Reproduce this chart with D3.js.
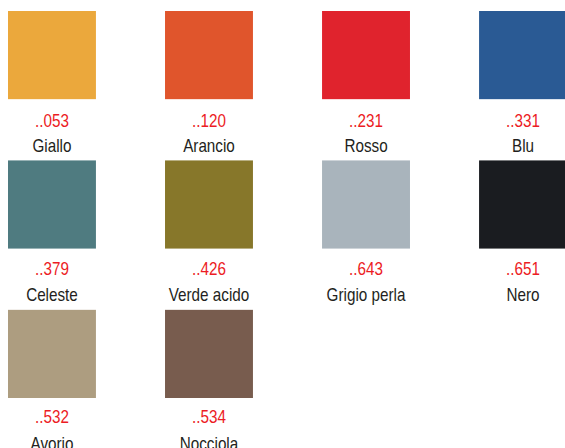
<!DOCTYPE html>
<html><head><meta charset="utf-8">
<script src="https://cdn.jsdelivr.net/npm/d3@7"></script>
<style>html,body{margin:0;padding:0;background:#fff;overflow:hidden}</style>
</head><body><div id="chart"></div>
<script>
const codes = ["..053","..120","..231","..331","..379","..426","..643","..651","..532","..534"];
const names = ["Giallo","Arancio","Rosso","Blu","Celeste","Verde acido","Grigio perla","Nero","Avorio","Nocciola"];
const colors = ["#eba83c","#e0552c","#e0232d","#2a5a94","#4f7b80","#87772a","#a9b4bc","#1a1c20","#ad9d80","#785c4e"];
const nCols = 4;

const W = 565, H = 448;
const svg = d3.select("#chart").append("svg").attr("width", W).attr("height", H);
const x = d3.scaleBand().domain(d3.range(nCols)).range([8, 567]).paddingInner(0.44);
const y = d3.scaleBand().domain(d3.range(3)).range([11, 398]).paddingInner(0.41);
const yCode = d3.scaleLinear().domain([0, 1]).range([126.7, 274.7]);
const yName = d3.scaleLinear().domain([0, 1]).range([151.5, 300.5]);

const data = codes.map((c,i)=>({c, n:names[i], col:colors[i], col_i: i % nCols, row: Math.floor(i / nCols)}));
const font = "'Liberation Sans',Arial,sans-serif";

svg.selectAll("rect.sw").data(data).enter().append("rect").attr("class","sw")
  .attr("x", d => x(d.col_i)).attr("y", d => y(d.row))
  .attr("width", x.bandwidth()).attr("height", y.bandwidth()).attr("fill", d => d.col);

function label(cls, fn, yScale, fill) {
  svg.selectAll("text." + cls).data(data).enter().append("text").attr("class", cls)
    .attr("transform", d => `translate(${x(d.col_i) + x.bandwidth()/2},${yScale(d.row)}) scale(0.82,1)`)
    .attr("text-anchor","middle").attr("font-family", font).attr("font-size", 18.6)
    .attr("fill", fill).text(fn);
}
label("code", d => d.c, yCode, "#ec1c24");
label("name", d => d.n, yName, "#231f20");
</script></body></html>
